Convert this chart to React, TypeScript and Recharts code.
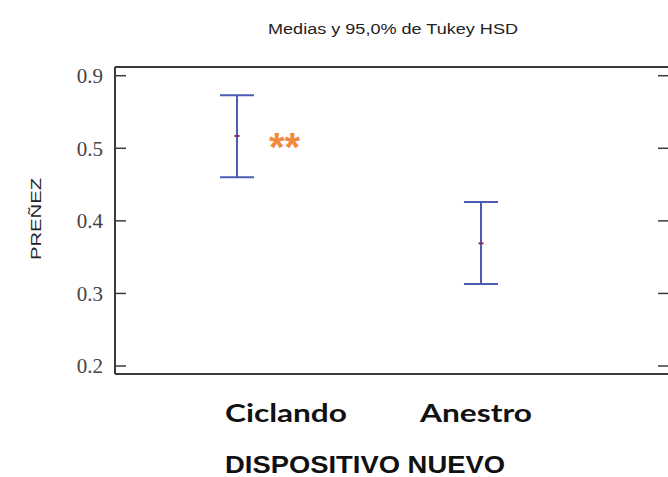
import React from "react";
import { ComposedChart, Scatter, XAxis, YAxis, ErrorBar } from "recharts";

const categories = ["Ciclando", "Anestro"];
const means = [0.517, 0.369];
const lowerLimits = [0.460, 0.313];
const upperLimits = [0.573, 0.426];
const significance = ["**", ""];
const yTickValues = [0.2, 0.3, 0.4, 0.5, 0.6];
const yTickLabels = ["0.2", "0.3", "0.4", "0.5", "0.9"];

const tableData = categories.map((c, i) => ({
  x: i,
  name: c,
  mean: means[i],
  err: [means[i] - lowerLimits[i], upperLimits[i] - means[i]],
  sig: significance[i],
}));

const labelOffsets = [49, -5];
const labelLengths = [122, 112];
const AXIS = "#3a3a3a";
const BAR = "#4a5db3";

const LeftTick = (props: any) => {
  const { x, y, payload } = props;
  const idx = yTickValues.indexOf(payload.value);
  const ax = x + 12;
  return (
    <g>
      <line x1={ax} y1={y} x2={ax + 11} y2={y} stroke={AXIS} strokeWidth={1.5} />
      <text x={x} y={y} dy="0.35em" textAnchor="end" fontFamily="Liberation Serif" fontSize={21} fill="#444">
        {idx >= 0 ? yTickLabels[idx] : payload.value}
      </text>
    </g>
  );
};

const RightTick = (props: any) => {
  const { x, y } = props;
  return <line x1={x - 11} y1={y} x2={x} y2={y} stroke={AXIS} strokeWidth={1.5} />;
};

const BottomTick = (props: any) => {
  const { x, y, payload } = props;
  const i = payload.value as number;
  return (
    <text
      x={x + (labelOffsets[i] || 0)}
      y={y + 48}
      textAnchor="middle"
      textLength={labelLengths[i]}
      lengthAdjust="spacingAndGlyphs"
      fontFamily="Lato"
      fontWeight={700}
      fontSize={24}
      fill="#111"
    >
      {categories[i]}
    </text>
  );
};

const MeanShape = (props: any) => {
  const { cx, cy, payload } = props;
  return (
    <g>
      <rect x={cx - 2.5} y={cy - 1} width={5} height={2} fill="#8c2d50" />
      {payload.sig ? (
        <text x={cx + 32} y={cy + 25} fontFamily="Liberation Sans" fontWeight={700} fontSize={40} fill="#f08a3c">
          {payload.sig}
        </text>
      ) : null}
    </g>
  );
};

export default function App() {
  return (
    <div style={{ position: "absolute", left: 0, top: 0, width: 668, height: 477, overflow: "hidden", background: "#fff" }}>
      <ComposedChart
        width={680}
        height={477}
        data={tableData}
        margin={{ top: 66, right: 10, bottom: 0, left: 0 }}
      >
        <XAxis
          xAxisId="top"
          orientation="top"
          dataKey="x"
          type="number"
          domain={[-0.5, 1.7705]}
          height={1}
          tick={false}
          tickLine={false}
          axisLine={{ stroke: AXIS, strokeWidth: 2 }}
          allowDataOverflow
        />
        <XAxis
          dataKey="x"
          type="number"
          domain={[-0.5, 1.7705]}
          ticks={[0, 1]}
          height={103}
          tickSize={0}
          tickMargin={0}
          tickLine={false}
          tick={<BottomTick />}
          axisLine={{ stroke: AXIS, strokeWidth: 2 }}
          allowDataOverflow
          label={{
            content: () => (
              <text x={225} y={473} textLength={280} lengthAdjust="spacingAndGlyphs" fontFamily="Liberation Sans" fontWeight={700} fontSize={24} fill="#111">
                DISPOSITIVO NUEVO
              </text>
            ),
          }}
        />
        <YAxis
          yAxisId="left"
          type="number"
          domain={[0.189, 0.612]}
          ticks={yTickValues}
          width={115}
          tickSize={0}
          tickMargin={12}
          tickLine={false}
          tick={<LeftTick />}
          axisLine={{ stroke: AXIS, strokeWidth: 2 }}
          allowDataOverflow
          label={{
            content: () => (
              <text
                x={41}
                y={219}
                transform="rotate(-90 41 219)"
                textAnchor="middle"
                textLength={82}
                lengthAdjust="spacingAndGlyphs"
                fontFamily="Liberation Sans"
                fontSize={14}
                fill="#222"
              >
                PREÑEZ
              </text>
            ),
          }}
        />
        <YAxis
          yAxisId="right"
          orientation="right"
          type="number"
          domain={[0.189, 0.612]}
          ticks={yTickValues}
          width={1}
          tickSize={0}
          tickMargin={0}
          tickLine={false}
          tick={<RightTick />}
          axisLine={{ stroke: AXIS, strokeWidth: 2 }}
          allowDataOverflow
        />
        <Scatter yAxisId="left" dataKey="mean" fill={BAR} shape={<MeanShape />} isAnimationActive={false}>
          <ErrorBar dataKey="err" direction="y" width={17} stroke={BAR} strokeWidth={2} />
        </Scatter>
      </ComposedChart>
      <svg width={668} height={60} style={{ position: "absolute", left: 0, top: 0, pointerEvents: "none" }}>
        <text x={268} y={33.5} textLength={250} lengthAdjust="spacingAndGlyphs" fontFamily="Liberation Sans" fontSize={14} fill="#222">
          Medias y 95,0% de Tukey HSD
        </text>
      </svg>
    </div>
  );
}
